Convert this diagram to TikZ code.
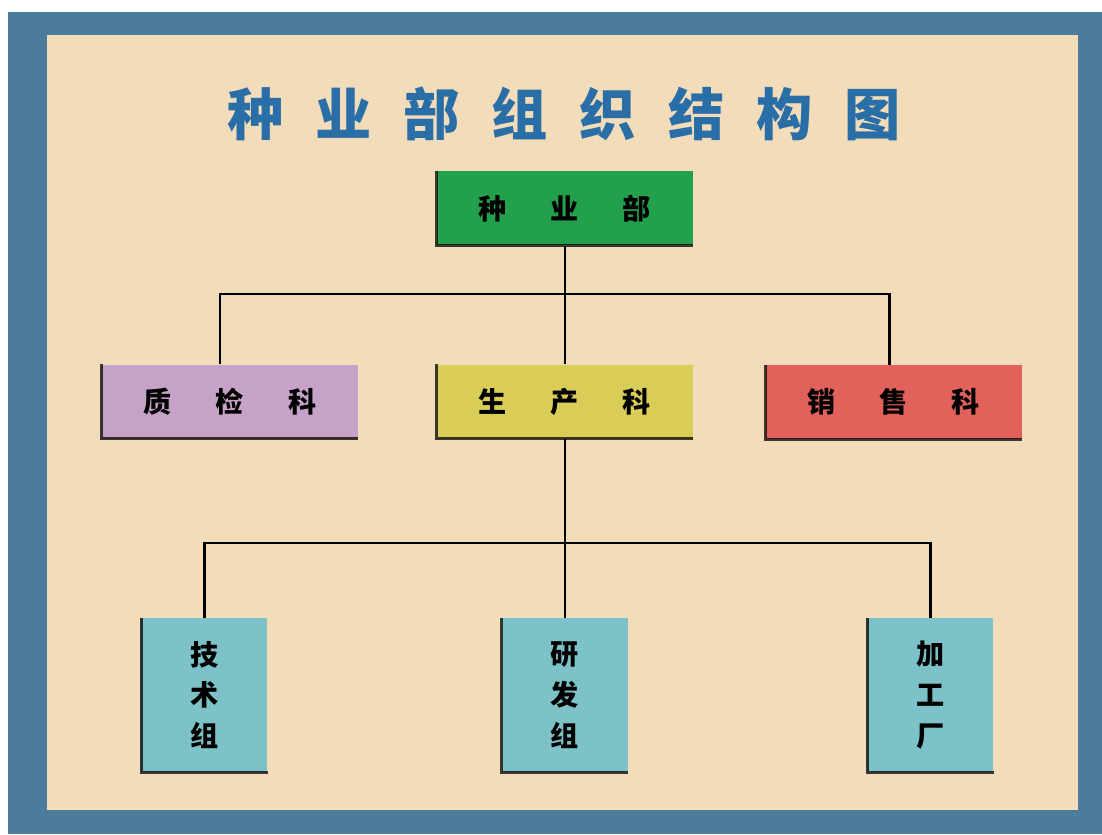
\documentclass[tikz,border=0pt]{standalone}
\usepackage{fontspec}
\newfontfamily\cjk{Noto Sans CJK SC}
\usetikzlibrary{positioning}
\definecolor{frameblue}{HTML}{4C7C9C}
\definecolor{paper}{HTML}{F3DCB9}
\definecolor{titleblue}{HTML}{2A6EA8}
\definecolor{headgreen}{HTML}{22A04C}
\definecolor{qcpurple}{HTML}{C6A2C8}
\definecolor{prodyellow}{HTML}{D9CD58}
\definecolor{salesred}{HTML}{E2615A}
\definecolor{groupteal}{HTML}{7CC2C8}
\tikzset{
  unit/.style={minimum width=6.4cm, minimum height=1.85cm, inner sep=0pt,
    font=\cjk\bfseries\fontsize{20}{24}\selectfont},
  group/.style={minimum width=3.15cm, minimum height=3.85cm, inner sep=0pt, align=center,
    font=\cjk\bfseries\fontsize{20}{29}\selectfont},
  bevel/.style={draw=black, draw opacity=0.75, line width=2.2pt},
  link/.style={draw=black, line width=1.6pt}
}
\newcommand{\charsep}{\hspace{1.1cm}}
\newcommand{\titlesep}{\hspace{0.8cm}}

\begin{document}
\begin{tikzpicture}
\useasboundingbox (0,0) rectangle (27.55,20.85);
% outer frame and paper
\fill[white] (0,0) rectangle (27.55,20.85);
\fill[frameblue] (0.2,0) rectangle (27.55,20.55);
\fill[paper] (1.175,0.6) rectangle (26.95,19.975);

% title
\node[font=\cjk\bfseries\fontsize{40}{44}\selectfont, text=titleblue] (title) at (14.1,18.0)
  {种\titlesep 业\titlesep 部\titlesep 组\titlesep 织\titlesep 结\titlesep 构\titlesep 图};

% department level
\node[unit, fill=headgreen] (head) at (14.12,15.64) {种\charsep 业\charsep 部};
\node[unit, fill=qcpurple] (qc) at (5.75,10.81) {质\charsep 检\charsep 科};
\node[unit, fill=prodyellow] (prod) at (14.12,10.81) {生\charsep 产\charsep 科};
\node[unit, fill=salesred] (sales) at (22.34,10.8) {销\charsep 售\charsep 科};

% groups under production
\node[group, fill=groupteal] (tech) at (5.11,3.475) {技\\术\\组};
\node[group, fill=groupteal] (rnd) at (14.12,3.475) {研\\发\\组};
\node[group, fill=groupteal] (proc) at (23.26,3.475) {加\\工\\厂};

% dark left and bottom edges
\foreach \n in {head,qc,prod,sales,tech,rnd,proc}
  \draw[bevel] (\n.north west) -- (\n.south west) -- (\n.south east);

% connectors
\coordinate (busA) at (14.12,13.5);
\coordinate (busB) at (14.12,7.275);
\draw[link] (head.south) -- (prod.north);
\draw[link] ([xshift=-0.25cm]qc.north) |- (busA) -| ([xshift=-0.1cm]sales.north);
\draw[link] (prod.south) -- (rnd.north);
\draw[link] (tech.north) |- (busB) -| (proc.north);
\end{tikzpicture}
\end{document}
